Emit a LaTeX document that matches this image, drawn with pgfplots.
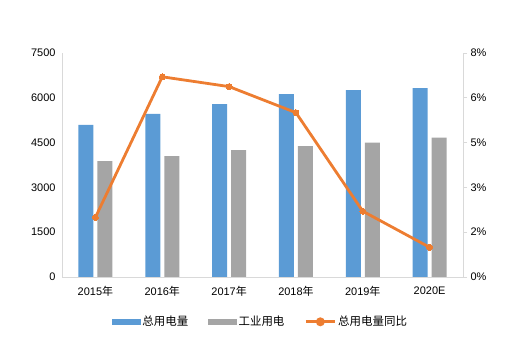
\documentclass[border=0pt]{standalone}
\usepackage{fontspec}
\setmainfont{Liberation Sans}
\newfontfamily\cjk{Noto Sans CJK SC}
\usepackage{pgfplots}
\pgfplotsset{compat=1.18}
\definecolor{cblue}{HTML}{5B9BD5}
\definecolor{cgray}{HTML}{A5A5A5}
\definecolor{corange}{HTML}{ED7D31}
\definecolor{axgray}{HTML}{D9D9D9}
\begin{document}
\begin{tikzpicture}
\path[use as bounding box] (0bp,0bp) rectangle (507bp,351bp);
\begin{axis}[
  at={(62bp,74bp)}, anchor=south west,
  scale only axis, width=401bp, height=224bp,
  xmin=-0.5, xmax=5.5, ymin=0, ymax=7500,
  ytick={0,1500,3000,4500,6000,7500},
  xtick={0,1,2,3,4,5},
  xticklabels={2015{\cjk 年},2016{\cjk 年},2017{\cjk 年},2018{\cjk 年},2019{\cjk 年},2020E},
  axis y line*=left, axis x line*=bottom,
  axis line style={axgray, line width=0.8bp, -},
  major tick length=0pt,
  tick style={draw=none},
  ticklabel style={font=\fontsize{11}{13}\selectfont, text=black},
  xticklabel style={yshift=-6bp},
  yticklabel style={xshift=-3bp, /pgf/number format/fixed, /pgf/number format/1000 sep={}},
  /pgf/number format/assume math mode=true,
  ybar=4bp, bar width=15bp,
  xtick pos=bottom,
]
\addplot[fill=cblue, draw=none] coordinates {(0,5090) (1,5458) (2,5792) (3,6127) (4,6261) (5,6328)};
\addplot[fill=cgray, draw=none] coordinates {(0,3884) (1,4051) (2,4252) (3,4386) (4,4498) (5,4665)};
\end{axis}
\begin{axis}[
  at={(62bp,74bp)}, anchor=south west,
  scale only axis, width=401bp, height=224bp,
  xmin=-0.5, xmax=5.5, ymin=0, ymax=8,
  axis y line*=right, axis x line=none,
  axis line style={axgray, line width=0.8bp, -},
  ytick={0,1.6,3.2,4.8,6.4,8},
  yticklabels={0\%,2\%,3\%,5\%,6\%,8\%},
  ytick style={axgray, line width=0.8bp},
  major tick length=4bp,
  tick align=outside,
  ticklabel style={font=\fontsize{11}{13}\selectfont, text=black},
  legend style={at={(0.495,-0.2)}, anchor=center, legend columns=3, draw=none,
    font=\fontsize{11.5}{13}\selectfont\cjk,
    /tikz/every even column/.append style={column sep=18bp}},
]
\addlegendimage{legend image code/.code={\fill[cblue] (-2bp,-2.5bp) rectangle (26bp,2.5bp);}}
\addlegendentry{总用电量}
\addlegendimage{legend image code/.code={\fill[cgray] (-2bp,-2.5bp) rectangle (26bp,2.5bp);}}
\addlegendentry{工业用电}
\addplot[corange, line width=2.8bp, mark=*, mark size=3bp, mark options={fill=corange, draw=corange, line width=0pt},
  legend image code/.code={\draw[corange, line width=2.8bp] (-2bp,0bp) -- (27bp,0bp); \fill[corange] (12.5bp,0bp) circle (3bp);}]
  coordinates {(0,2.13) (1,7.15) (2,6.80) (3,5.87) (4,2.35) (5,1.06)};
\addlegendentry{总用电量同比}
\end{axis}
\end{tikzpicture}
\end{document}
